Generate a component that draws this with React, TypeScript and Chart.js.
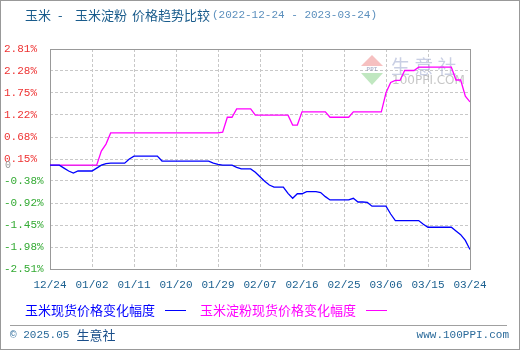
import React, { useEffect, useRef } from 'react';
import { Chart, registerables } from 'chart.js';

Chart.register(...registerables);

const titleParts = ['玉米', '-', '玉米淀粉', '价格趋势比较'];
const titleRange = '(2022-12-24 - 2023-03-24)';
const seriesNames = ['玉米现货价格变化幅度', '玉米淀粉现货价格变化幅度'];
const seriesColors = ['#0000ff', '#ff00ff'];
const footerLeft = '© 2025.05';
const footerBrand = '生意社';
const footerRight = 'www.100PPI.com';

const xTickLabels = ['12/24', '01/02', '01/11', '01/20', '01/29', '02/07', '02/16', '02/25', '03/06', '03/15', '03/24'];
const daysPerTick = 9;
const yTickValues = [2.81, 2.28, 1.75, 1.22, 0.68, 0.15, -0.38, -0.92, -1.45, -1.98, -2.51];

// daily change (%) from 2022-12-24 to 2023-03-24
const cornChange = [
  0, 0, 0, -0.07, -0.14, -0.19, -0.14, -0.14, -0.14, -0.14,
  -0.07, 0, 0.04, 0.05, 0.05, 0.05, 0.05, 0.15, 0.22, 0.22,
  0.22, 0.22, 0.22, 0.22, 0.1, 0.1, 0.1, 0.1, 0.1, 0.1,
  0.1, 0.1, 0.1, 0.1, 0.1, 0.05, 0.02, 0, 0, 0,
  -0.05, -0.09, -0.09, -0.09, -0.17, -0.28, -0.39, -0.48, -0.53, -0.53,
  -0.53, -0.68, -0.8, -0.69, -0.69, -0.64, -0.64, -0.64, -0.66, -0.76,
  -0.84, -0.84, -0.84, -0.84, -0.84, -0.8, -0.89, -0.89, -0.9, -0.99,
  -0.99, -0.99, -0.99, -1.18, -1.34, -1.34, -1.34, -1.34, -1.34, -1.34,
  -1.43, -1.5, -1.5, -1.5, -1.5, -1.5, -1.5, -1.59, -1.68, -1.82,
  -2.04,
];

const starchChange = [
  0, 0, 0, 0, 0, 0, 0, 0, 0, 0,
  0, 0.34, 0.51, 0.78, 0.78, 0.78, 0.78, 0.78, 0.78, 0.78,
  0.78, 0.78, 0.78, 0.78, 0.78, 0.78, 0.78, 0.78, 0.78, 0.78,
  0.78, 0.78, 0.78, 0.78, 0.78, 0.78, 0.78, 0.8, 1.16, 1.16,
  1.36, 1.36, 1.36, 1.36, 1.21, 1.21, 1.21, 1.21, 1.21, 1.21,
  1.21, 1.21, 0.97, 0.97, 1.29, 1.29, 1.29, 1.29, 1.29, 1.29,
  1.16, 1.16, 1.16, 1.16, 1.16, 1.29, 1.29, 1.29, 1.29, 1.29,
  1.29, 1.29, 1.75, 2.0, 2.05, 2.05, 2.29, 2.29, 2.29, 2.37,
  2.37, 2.37, 2.37, 2.37, 2.37, 2.37, 2.37, 2.06, 2.06, 1.67,
  1.53,
];

const CJK = '"Noto Sans CJK SC", sans-serif';
const MONO = '"Liberation Mono", "DejaVu Sans Mono", monospace';

export default function App() {
  const ref = useRef<HTMLCanvasElement>(null);

  useEffect(() => {
    const canvas = ref.current as HTMLCanvasElement;

    const chrome = {
      id: 'chrome',
      beforeDraw(chart: any) {
        const ctx = chart.ctx as CanvasRenderingContext2D;
        ctx.save();
        ctx.fillStyle = '#ffffff';
        ctx.fillRect(0, 0, chart.width, chart.height);
        ctx.restore();
      },
      beforeDatasetsDraw(chart: any) {
        const ctx = chart.ctx as CanvasRenderingContext2D;
        const a = chart.chartArea;
        const y0 = Math.round(chart.scales.y.getPixelForValue(0)) + 0.5;
        ctx.save();
        // watermark
        const wx = 361, wy = 55;
        ctx.fillStyle = 'rgba(240,150,150,0.6)';
        ctx.beginPath();
        ctx.moveTo(wx + 11, wy);
        ctx.lineTo(wx + 22, wy + 11);
        ctx.lineTo(wx, wy + 11);
        ctx.closePath();
        ctx.fill();
        ctx.fillStyle = 'rgba(150,215,150,0.6)';
        ctx.beginPath();
        ctx.moveTo(wx, wy + 18);
        ctx.lineTo(wx + 22, wy + 18);
        ctx.lineTo(wx + 11, wy + 30);
        ctx.closePath();
        ctx.fill();
        ctx.fillStyle = 'rgba(120,130,170,0.55)';
        ctx.font = 'bold 6px ' + MONO;
        ctx.textBaseline = 'middle';
        ctx.textAlign = 'center';
        ctx.fillText('PPI', wx + 11, wy + 14.5);
        ctx.textAlign = 'left';
        ctx.fillStyle = 'rgba(165,175,210,0.6)';
        ctx.font = '19px ' + CJK;
        ctx.fillText('生 意 社', 391, 67);
        ctx.fillStyle = 'rgba(160,160,160,0.6)';
        ctx.font = '12px "DejaVu Sans", sans-serif';
        ctx.fillText('100PPI.COM', 392, 81);

        // frame and zero line
        ctx.strokeStyle = '#999999';
        ctx.lineWidth = 1;
        ctx.beginPath();
        ctx.moveTo(a.left, y0);
        ctx.lineTo(a.right, y0);
        ctx.stroke();
        ctx.strokeRect(Math.round(a.left) + 0.5, Math.round(a.top) + 0.5, Math.round(a.right - a.left), Math.round(a.bottom - a.top));
        ctx.restore();
      },
      afterDraw(chart: any) {
        const ctx = chart.ctx as CanvasRenderingContext2D;
        ctx.save();
        ctx.textBaseline = 'middle';
        ctx.textAlign = 'left';
        // title
        ctx.font = '13px ' + CJK;
        ctx.fillStyle = '#1a5c8c';
        const titleX = [25, 58, 75, 132];
        titleParts.forEach((p, i) => ctx.fillText(p, titleX[i], 15));
        ctx.font = '11px ' + MONO;
        ctx.fillStyle = '#5b8fbd';
        ctx.fillText(titleRange, 212, 15);

        // zero label
        ctx.font = '10px ' + MONO;
        ctx.fillStyle = '#999999';
        ctx.fillText('0', 5, 165);

        // legend
        ctx.font = '13px ' + CJK;
        ctx.fillStyle = seriesColors[0];
        ctx.fillText(seriesNames[0], 25, 310);
        ctx.fillStyle = seriesColors[1];
        ctx.fillText(seriesNames[1], 200, 310);
        ctx.lineWidth = 1;
        ctx.strokeStyle = seriesColors[0];
        ctx.beginPath();
        ctx.moveTo(165, 310.5);
        ctx.lineTo(186, 310.5);
        ctx.stroke();
        ctx.strokeStyle = seriesColors[1];
        ctx.beginPath();
        ctx.moveTo(366, 310.5);
        ctx.lineTo(387, 310.5);
        ctx.stroke();

        // footer
        ctx.strokeStyle = '#a0a0a0';
        ctx.beginPath();
        ctx.moveTo(10, 325.5);
        ctx.lineTo(507, 325.5);
        ctx.stroke();
        ctx.font = '11px ' + MONO;
        ctx.fillStyle = '#2a6a9a';
        ctx.fillText(footerLeft, 10, 335);
        const fw = ctx.measureText(footerLeft).width;
        ctx.font = '13px ' + CJK;
        ctx.fillStyle = '#1a4f8a';
        ctx.fillText(footerBrand, 10 + fw + 7, 335);
        ctx.font = '11px ' + MONO;
        ctx.fillStyle = '#2a6a9a';
        ctx.textAlign = 'right';
        ctx.fillText(footerRight, 509, 335);

        // outer border
        ctx.strokeStyle = '#999999';
        ctx.strokeRect(0.5, 0.5, chart.width - 1, chart.height - 1);
        ctx.restore();
      },
    };

    const chart = new Chart(canvas, {
      type: 'line',
      data: {
        datasets: [
          {
            label: seriesNames[0],
            data: cornChange.map((v, i) => ({ x: i, y: v })),
            borderColor: seriesColors[0],
            borderWidth: 1.3,
            pointRadius: 0,
            tension: 0,
          },
          {
            label: seriesNames[1],
            data: starchChange.map((v, i) => ({ x: i, y: v })),
            borderColor: seriesColors[1],
            borderWidth: 1.3,
            pointRadius: 0,
            tension: 0,
          },
        ],
      },
      options: {
        animation: false,
        responsive: false,
        events: [],
        layout: { padding: { left: 4, right: 50, top: 49, bottom: 51 } },
        plugins: { legend: { display: false }, tooltip: { enabled: false } },
        scales: {
          x: {
            type: 'linear',
            min: 0,
            max: (xTickLabels.length - 1) * daysPerTick,
            afterBuildTicks: (s: any) => {
              s.ticks = xTickLabels.map((_, i) => ({ value: i * daysPerTick }));
            },
            afterFit: (s: any) => {
              s.height = 30;
            },
            ticks: {
              autoSkip: false,
              maxRotation: 0,
              padding: 9,
              color: '#1a5f8f',
              font: { family: MONO, size: 11 },
              callback: (v: any) => xTickLabels[Math.round(Number(v) / daysPerTick)],
            },
            grid: { color: '#c8c8c8', lineWidth: 1, drawTicks: false },
            border: { display: false, dash: [3, 2] },
          },
          y: {
            min: yTickValues[yTickValues.length - 1],
            max: yTickValues[0],
            afterBuildTicks: (s: any) => {
              s.ticks = yTickValues.map((v) => ({ value: v }));
            },
            afterFit: (s: any) => {
              s.width = 46;
            },
            ticks: {
              autoSkip: false,
              crossAlign: 'far',
              padding: 0,
              font: { family: MONO, size: 11 },
              color: (c: any) => (c.tick && c.tick.value > 0 ? '#ee3333' : '#33aa33'),
              callback: (v: any) => Number(v).toFixed(2) + '%',
            },
            grid: { color: '#c8c8c8', lineWidth: 1, drawTicks: false },
            border: { display: false, dash: [3, 2] },
          },
        },
      },
      plugins: [chrome],
    } as any);

    return () => chart.destroy();
  }, []);

  return (
    <div style={{ position: 'absolute', left: 0, top: 0, width: 520, height: 350 }}>
      <canvas ref={ref} width={520} height={350} style={{ display: 'block' }} />
    </div>
  );
}
